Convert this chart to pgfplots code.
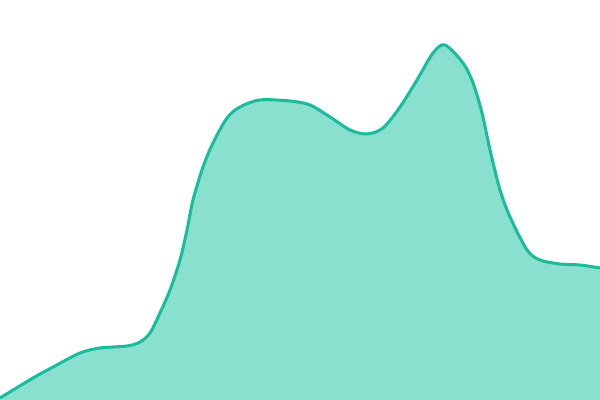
\documentclass[border=0pt]{standalone}
\usepackage{pgfplots}
\usepackage{pgfplotstable}
\pgfplotsset{compat=1.18}
\definecolor{lineC}{HTML}{1ABC9C}
\definecolor{fillC}{HTML}{8AE0CF}

% curve (x in px, y = height above bottom in px)
\pgfplotstableread{
x   y
0   2
33  22
55  34
80  47
100 52
127 54
140 58
150 67
160 87
170 110
180 140
187 170
193 200
203 233
213 257
227 282
240 293
260 300
290 299
310 295
330 283
350 270
367 266
383 272
400 293
417 320
433 347
445 355
463 337
473 317
482 287
490 250
500 210
510 183
527 150
540 140
560 136
580 135
600 132
}\curve

\begin{document}
\begin{tikzpicture}
\begin{axis}[
    width=6in, height=4in,
    scale only axis,
    hide axis,
    clip=true,
    xmin=0, xmax=600,
    ymin=0, ymax=400,
]
\addplot[draw=none, fill=fillC, smooth, tension=0.5] table[x=x,y=y] {\curve} \closedcycle;
\addplot[draw=lineC, line width=2.2pt, smooth, tension=0.5] table[x=x,y=y] {\curve};
\coordinate (sw) at (rel axis cs:0,0);
\coordinate (ne) at (rel axis cs:1,1);
\end{axis}
\pgfresetboundingbox
\useasboundingbox (sw) rectangle (ne);
\end{tikzpicture}
\end{document}
